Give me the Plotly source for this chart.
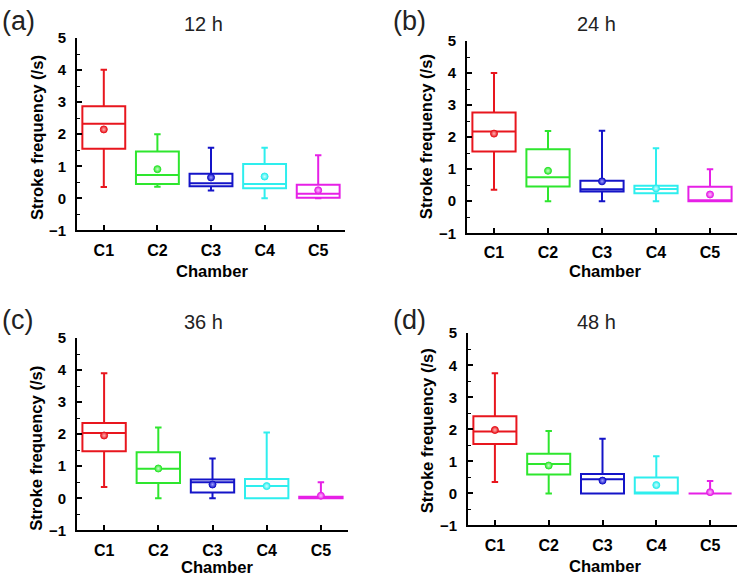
import plotly.graph_objects as go

chambers = ["C1", "C2", "C3", "C4", "C5"]
colors = ["#E8161E", "#2EE62E", "#1414C8", "#2EEEEE", "#E620E6"]
highlights = ["#FFB4B4", "#C8FFC8", "#A0A0FF", "#D0FFFF", "#FFC0FF"]
panel_titles = ["12 h", "24 h", "36 h", "48 h"]
panel_letters = ["(a)", "(b)", "(c)", "(d)"]

# per panel: lists over chambers C1..C5
lowerfence = [
    [0.35, 0.36, 0.24, 0.00, 0.00],
    [0.36, 0.00, 0.00, 0.00, 0.00],
    [0.35, 0.00, 0.00, 0.00, 0.00],
    [0.36, 0.00, 0.00, 0.00, 0.00],
]
q1 = [
    [1.55, 0.45, 0.38, 0.31, 0.02],
    [1.55, 0.46, 0.30, 0.25, 0.00],
    [1.47, 0.48, 0.18, 0.00, 0.00],
    [1.54, 0.59, 0.00, 0.00, 0.00],
]
median = [
    [2.33, 0.73, 0.47, 0.45, 0.14],
    [2.18, 0.75, 0.37, 0.38, 0.00],
    [2.04, 0.92, 0.50, 0.38, 0.02],
    [1.93, 0.92, 0.44, 0.00, 0.00],
]
q3 = [
    [2.87, 1.46, 0.77, 1.07, 0.42],
    [2.77, 1.62, 0.64, 0.48, 0.45],
    [2.35, 1.44, 0.59, 0.60, 0.05],
    [2.41, 1.24, 0.61, 0.50, 0.00],
]
upperfence = [
    [4.01, 2.00, 1.58, 1.58, 1.34],
    [4.00, 2.19, 2.20, 1.65, 1.00],
    [3.90, 2.21, 1.24, 2.05, 0.50],
    [3.75, 1.95, 1.71, 1.16, 0.39],
]
means = [
    [2.15, 0.91, 0.65, 0.68, 0.25],
    [2.11, 0.95, 0.62, 0.40, 0.21],
    [1.96, 0.93, 0.43, 0.38, 0.08],
    [1.98, 0.87, 0.40, 0.26, 0.04],
]

W, H = 737, 582
# plot areas in pixels: (x0, x1, ytop, ybottom)
areas = [(77, 345, 30, 228), (467, 737, 33, 231), (77, 348, 339, 537), (468, 737, 334, 532)]

FONT = "Liberation Sans, Arial, sans-serif"
fig = go.Figure()

for p in range(4):
    xa = "x" if p == 0 else f"x{p+1}"
    ya = "y" if p == 0 else f"y{p+1}"
    for i, c in enumerate(chambers):
        fig.add_trace(go.Box(
            x=[c], q1=[q1[p][i]], median=[median[p][i]], q3=[q3[p][i]],
            lowerfence=[lowerfence[p][i]], upperfence=[upperfence[p][i]],
            width=0.8, whiskerwidth=0.15,
            line=dict(color=colors[i], width=2), fillcolor="rgba(255,255,255,0)",
            showlegend=False, xaxis=xa, yaxis=ya, hoverinfo="skip",
        ))
        fig.add_trace(go.Scatter(
            x=[c], y=[means[p][i]], mode="markers",
            marker=dict(color=colors[i], size=7, symbol="circle",
                        gradient=dict(type="radial", color=highlights[i]),
                        line=dict(color=colors[i], width=1)),
            showlegend=False, xaxis=xa, yaxis=ya, hoverinfo="skip",
        ))

    x0, x1, yt, yb = areas[p]
    sfx = "" if p == 0 else str(p + 1)
    fig.update_layout(**{
        f"xaxis{sfx}": dict(
            domain=[x0 / W, x1 / W], anchor=ya,
            type="category", categoryorder="array", categoryarray=chambers,
            range=[-0.5, 4.5], showline=True, linecolor="black", linewidth=2,
            ticks="inside", ticklen=5, tickwidth=1.5, tickcolor="black",
            tickfont=dict(family=FONT, size=16, color="black", weight="bold"),
            ticklabelstandoff=4, showgrid=False, zeroline=False, fixedrange=True,
        ),
        f"yaxis{sfx}": dict(
            domain=[1 - yb / H, 1 - yt / H], anchor=xa,
            range=[-1, 5], tickmode="linear", tick0=0, dtick=1,
            showline=True, linecolor="black", linewidth=2,
            ticks="inside", ticklen=5, tickwidth=1.5, tickcolor="black",
            minor=dict(dtick=0.5, ticks="inside", ticklen=3, tickwidth=1, tickcolor="black"),
            tickfont=dict(family=FONT, size=15, color="black", weight="bold"),
            ticklabelstandoff=6, showgrid=False, zeroline=False, fixedrange=True,
        ),
    })

annotations = []
title_pos = [(203, 15), (596, 15), (203, 322), (596, 322)]
letter_pos = [(0, 12), (391, 12), (0, 320), (391, 320)]
ytitle_pos = [(37, 133), (426, 132), (37, 453), (427, 435)]
xtitle_pos = [(212, 270), (605, 270), (217, 575), (605, 574)]
for p in range(4):
    tx, ty = title_pos[p]
    annotations.append(dict(text=panel_titles[p], x=tx / W, y=1 - ty / H, xref="paper", yref="paper",
                            xanchor="center", yanchor="middle", showarrow=False,
                            font=dict(family=FONT, size=20, color="#222222")))
    lx, ly = letter_pos[p]
    annotations.append(dict(text=panel_letters[p], x=lx / W, y=1 - ly / H, xref="paper", yref="paper",
                            xanchor="left", yanchor="middle", showarrow=False,
                            font=dict(family=FONT, size=27, color="#222222")))
    ax_, ay_ = ytitle_pos[p]
    annotations.append(dict(text="Stroke frequency (/s)", x=ax_ / W, y=1 - ay_ / H,
                            xref="paper", yref="paper", xanchor="center", yanchor="middle",
                            textangle=-90, showarrow=False,
                            font=dict(family=FONT, size=16.6, color="black", weight="bold")))
    bx_, by_ = xtitle_pos[p]
    annotations.append(dict(text="Chamber", x=bx_ / W, y=1 - by_ / H,
                            xref="paper", yref="paper", xanchor="center", yanchor="middle",
                            showarrow=False,
                            font=dict(family=FONT, size=16.6, color="black", weight="bold")))

fig.update_layout(
    width=W, height=H, autosize=False, margin=dict(l=0, r=0, t=0, b=0, pad=0),
    paper_bgcolor="white", plot_bgcolor="white",
    annotations=annotations, showlegend=False,
)

fig.write_html(
    "out.html",
    config={"displayModeBar": False, "responsive": False},
    post_script="document.body.style.margin='0px';document.body.style.padding='0px';",
)
